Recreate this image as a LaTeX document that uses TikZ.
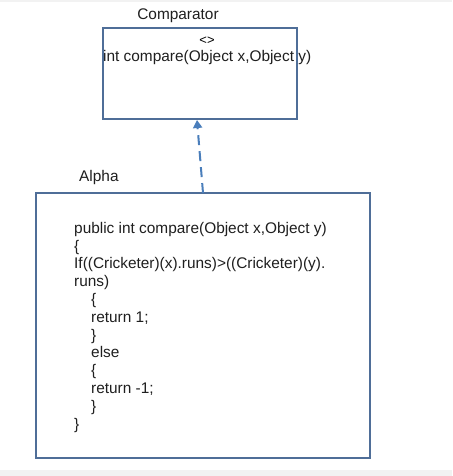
\documentclass[tikz,border=0pt]{standalone}
\usepackage{fontspec}
\setmainfont{Liberation Sans}
\usetikzlibrary{arrows.meta}
\definecolor{boxblue}{RGB}{79,110,152}
\definecolor{arrowblue}{RGB}{74,126,187}
\definecolor{band}{RGB}{242,242,242}
\tikzset{
  umlbox/.style={draw=boxblue, line width=1.6pt},
  lbl/.style={inner sep=0pt, font=\fontsize{15.4}{18}\selectfont, text=black!88},
  code/.style={inner sep=0pt, align=left, font=\fontsize{15.4}{17.8}\selectfont, text=black!88},
  realize/.style={draw=arrowblue, line width=2pt, dash pattern=on 10pt off 6pt, -{Triangle[length=8pt,width=9pt]}}
}
\begin{document}
\begin{tikzpicture}[x=1pt,y=-1pt]
\fill[white] (0,0) rectangle (452,476);
\useasboundingbox (0,0) rectangle (452,476);
\fill[band] (0,0) rectangle (452,2);
\fill[band] (0,470) rectangle (452,476);
% top interface box
\node[lbl, anchor=base] (cmpname) at (178,20) {Comparator};
\node[inner sep=0pt, font=\fontsize{13}{15}\selectfont, anchor=base] (stereo) at (207,45) {<>};
\node[lbl, anchor=base west] (sig) at (103,62) {int compare(Object x,Object y)};
\draw[umlbox] (103,28) rectangle (297,119);
\coordinate (topbot) at (197,120);
% bottom class box
\node[lbl, anchor=base west] (alphaname) at (79,181) {Alpha};
\draw[umlbox] (36,193) rectangle (370,458);
\coordinate (bottop) at (203,193);
\node[code, anchor=north west] (body) at (74,222) {public int compare(Object x,Object y)\\
\{\\
If((Cricketer)(x).runs)>((Cricketer)(y).\\
runs)\\
\hspace*{17pt}\{\\
\hspace*{17pt}return 1;\\
\hspace*{17pt}\}\\
\hspace*{17pt}else\\
\hspace*{17pt}\{\\
\hspace*{17pt}return -1;\\
\hspace*{17pt}\}\\
\}};
\draw[realize] (bottop) -- (topbot);
\end{tikzpicture}
\end{document}
